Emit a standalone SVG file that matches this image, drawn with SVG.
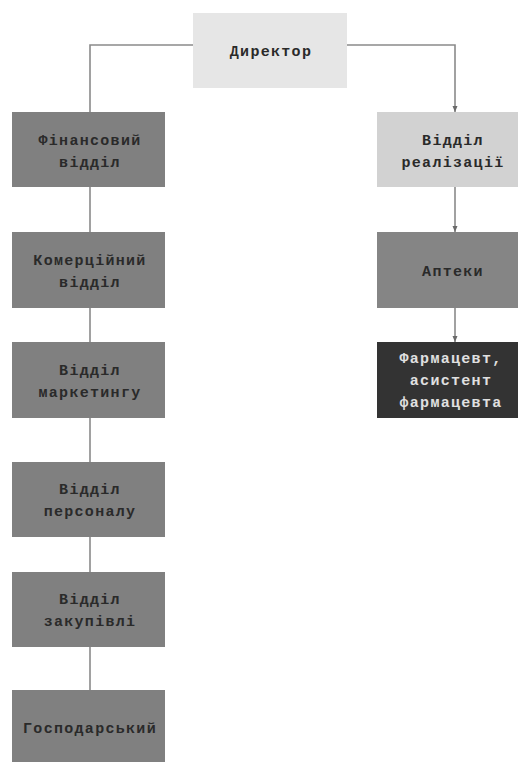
<svg xmlns="http://www.w3.org/2000/svg" width="518" height="762" viewBox="0 0 518 762">
<defs>
<style>
.t{font-family:"Liberation Mono","DejaVu Sans Mono",monospace;font-size:15px;font-weight:bold;letter-spacing:1.3px;text-anchor:middle;fill:#2a2a2a}
.w{fill:#e0e0e0}
.c{fill:none;stroke:#8a8a8a;stroke-width:1.6}
</style>
<marker id="ar" viewBox="0 0 6 6" refX="6" refY="3" markerWidth="6" markerHeight="6" orient="auto" markerUnits="userSpaceOnUse">
<path d="M0,0.5 L6,3 L0,5.5 Z" fill="#6a6a6a"/>
</marker>
</defs>
<rect width="518" height="762" fill="#ffffff"/>
<g id="connectors">
<path class="c" d="M193,45 H90 V112"/>
<path class="c" d="M347,45 H455 V112" marker-end="url(#ar)"/>
<path class="c" d="M90,187 V232"/>
<path class="c" d="M90,308 V342"/>
<path class="c" d="M90,418 V462"/>
<path class="c" d="M90,537 V572"/>
<path class="c" d="M90,647 V690"/>
<path class="c" d="M455,187 V232" marker-end="url(#ar)"/>
<path class="c" d="M455,308 V342" marker-end="url(#ar)"/>
</g>
<g id="director">
<rect x="193" y="13" width="154" height="75" fill="#e6e6e6"/>
<text class="t" x="271" y="56">Директор</text>
</g>
<g id="finance">
<rect x="12" y="112" width="153" height="75" fill="#808080"/>
<text class="t" x="90" y="145">Фінансовий</text>
<text class="t" x="90" y="167">відділ</text>
</g>
<g id="commercial">
<rect x="12" y="232" width="153" height="76" fill="#808080"/>
<text class="t" x="90" y="265">Комерційний</text>
<text class="t" x="90" y="287">відділ</text>
</g>
<g id="marketing">
<rect x="12" y="342" width="153" height="76" fill="#808080"/>
<text class="t" x="90" y="375">Відділ</text>
<text class="t" x="90" y="397">маркетингу</text>
</g>
<g id="personnel">
<rect x="12" y="462" width="153" height="75" fill="#808080"/>
<text class="t" x="90" y="494">Відділ</text>
<text class="t" x="90" y="516">персоналу</text>
</g>
<g id="purchasing">
<rect x="12" y="572" width="153" height="75" fill="#808080"/>
<text class="t" x="90" y="604">Відділ</text>
<text class="t" x="90" y="626">закупівлі</text>
</g>
<g id="household">
<rect x="12" y="690" width="153" height="80" fill="#808080"/>
<text class="t" x="90" y="733">Господарський</text>
</g>
<g id="sales">
<rect x="377" y="112" width="145" height="75" fill="#d2d2d2"/>
<text class="t" x="453" y="145">Відділ</text>
<text class="t" x="453" y="167">реалізації</text>
</g>
<g id="pharmacies">
<rect x="377" y="232" width="145" height="76" fill="#858585"/>
<text class="t" x="453" y="276">Аптеки</text>
</g>
<g id="pharmacist">
<rect x="377" y="342" width="145" height="76" fill="#333333"/>
<text class="t w" x="451" y="363">Фармацевт,</text>
<text class="t w" x="451" y="385">асистент</text>
<text class="t w" x="451" y="407">фармацевта</text>
</g>
</svg>
